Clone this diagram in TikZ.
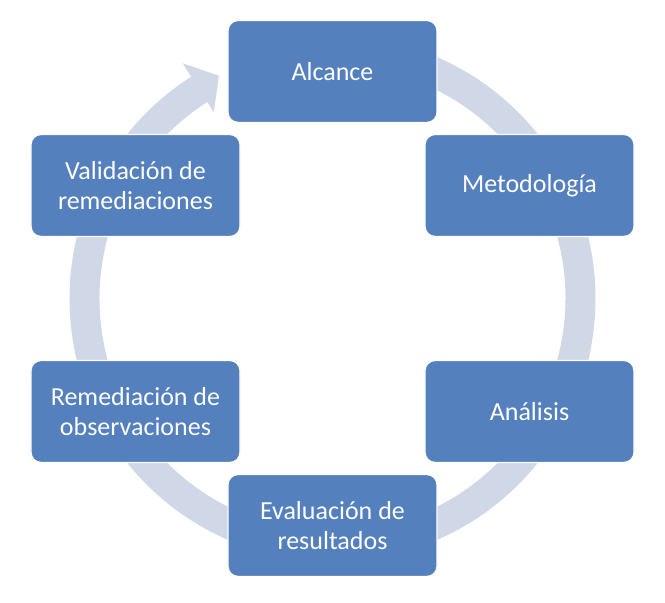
\documentclass[tikz,border=0pt]{standalone}
\usepackage{fontspec}
\setmainfont{Carlito}
\usetikzlibrary{positioning,calc}
\definecolor{cajaazul}{RGB}{84,128,189}
\definecolor{anillo}{RGB}{208,216,232}

\begin{document}
\begin{tikzpicture}[x=0.025cm,y=0.025cm,
	paso/.style={rectangle, rounded corners=0.25cm, draw=white, line width=1pt, fill=cajaazul, text=white, minimum width=5.225cm, minimum height=2.55cm, inner sep=2pt, align=center, font=\fontsize{18.5}{21.5}\selectfont}]
		\useasboundingbox (-332.5,-304.5) rectangle (332.5,298.5);

		% anillo con flecha
		\fill [anillo] (90:263) arc [start angle=90, end angle=-237.5, radius=263]
			-- (-237.5:279) -- (-243:250) -- (-237.5:221) -- (-237.5:233)
			arc [start angle=-237.5, end angle=90, radius=233] -- cycle;

		\node (alcance) at (0,227) 		[paso] {Alcance};
		\node (metodo) at (197,113) 		[paso] {Metodología};
		\node (analisis) at (197,-113) 	[paso] {Análisis};
		\node (evaluacion) at (0,-227) 	[paso] {Evaluación de\\resultados};
		\node (remediacion) at (-197,-113) [paso] {Remediación de\\observaciones};
		\node (validacion) at (-197,113) 	[paso] {Validación de\\remediaciones};
	\end{tikzpicture}
\end{document}
